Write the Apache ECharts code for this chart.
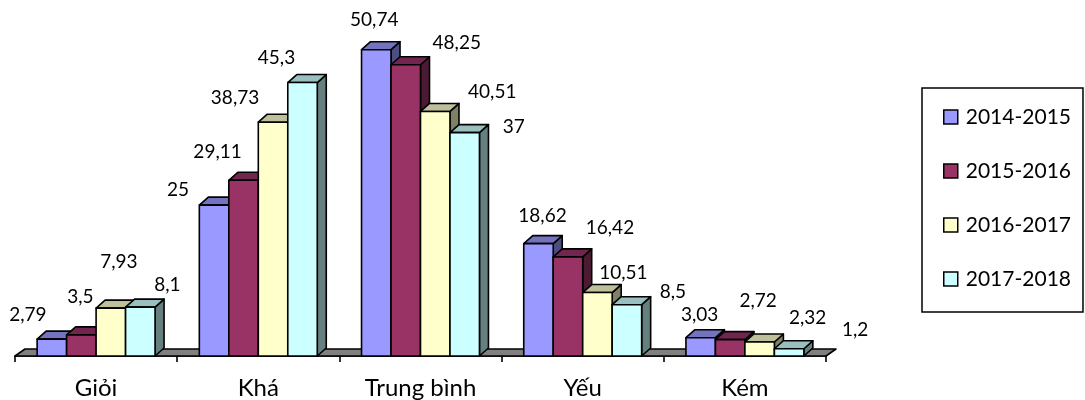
<!DOCTYPE html>
<html>
<head>
<meta charset="utf-8">
<script src="https://cdn.jsdelivr.net/npm/echarts@6/dist/echarts.min.js"></script>
<style>
  html, body { margin: 0; padding: 0; background: #fff; }
  #chart { width: 1085px; height: 400px; }
</style>
</head>
<body>
<div id="chart"></div>
<script>
// Data (percent per rating, per school year)
const categories = ['Giỏi', 'Khá', 'Trung bình', 'Yếu', 'Kém'];
const years = ['2014-2015', '2015-2016', '2016-2017', '2017-2018'];
const v1415 = [2.79, 25, 50.74, 18.62, 3.03];
const v1516 = [3.5, 29.11, 48.25, 16.42, 2.72];
const v1617 = [7.93, 38.73, 40.51, 10.51, 2.32];
const v1718 = [8.1, 45.3, 37, 8.5, 1.2];
const seriesValues = [v1415, v1516, v1617, v1718];

// Excel-like 3D faces: front, top, side
const frontColors = ['#9999FF', '#993366', '#FFFFCC', '#CCFFFF'];
const topColors = ['#7373BF', '#73264D', '#BFBF99', '#99BFBF'];
const sideColors = ['#4D4D80', '#4D1A33', '#808066', '#668080'];

// label nudges (px, relative to top centre of the bar's front face)
const labelOffsets = [
  [[-24, -24], [-36, -15], [-2, -30], [4, -28], [-1, -23]],
  [[-1, -38], [-26, -28], [51, -22], [42, -29], [28, -39]],
  [[8, -46], [-38, -24], [57, -20], [26, -20], [48, -24]],
  [[27, -22], [-26, -25], [49, -6], [46, -13], [66, -19]]
];

const DX = 9, DY = -8, CLUSTER = 0.727;
const STROKE = '#000', LW = 1.6;

const chart = echarts.init(document.getElementById('chart'), null, { renderer: 'canvas' });

function fmt(v) { return String(v).replace('.', ','); }

function barRenderer(si) {
  return function (params, api) {
    const cat = api.value(0), val = api.value(1);
    const base = api.coord([cat, 0]);
    const top = api.coord([cat, val]);
    const bw = api.size([1, 0])[0] * CLUSTER / 4;
    const x0 = base[0] + (si - 2) * bw, x1 = x0 + bw;
    const yb = base[1], yt = top[1];
    const st = { stroke: STROKE, lineWidth: LW, lineJoin: 'round' };
    const off = labelOffsets[si][cat];
    return {
      type: 'group',
      children: [
        { type: 'polygon', shape: { points: [[x1, yt], [x1 + DX, yt + DY], [x1 + DX, yb + DY], [x1, yb]] },
          style: Object.assign({ fill: sideColors[si] }, st) },
        { type: 'polygon', shape: { points: [[x0, yt], [x1, yt], [x1 + DX, yt + DY], [x0 + DX, yt + DY]] },
          style: Object.assign({ fill: topColors[si] }, st) },
        { type: 'rect', shape: { x: x0, y: yt, width: bw, height: yb - yt },
          style: Object.assign({ fill: frontColors[si] }, st) },
        { type: 'text', z2: 10,
          style: { x: x0 + bw / 2 + off[0], y: yt + off[1], text: fmt(val),
            fill: '#000', font: '19px Lato', align: 'center', verticalAlign: 'middle' } }
      ]
    };
  };
}

const series = [{
  type: 'custom',
  name: 'floor',
  z: 1,
  silent: true,
  clip: false,
  data: [[0, 0]],
  renderItem: function (params, api) {
    const cs = params.coordSys;
    const yb = api.coord([0, 0])[1];
    const xl = cs.x, xr = cs.x + cs.width;
    return {
      type: 'polygon',
      shape: { points: [[xl, yb], [xr, yb], [xr + DX + 1, yb + DY + 1], [xl + DX + 1, yb + DY + 1]] },
      style: { fill: '#808080', stroke: STROKE, lineWidth: LW, lineJoin: 'round' }
    };
  }
}];

years.forEach(function (name, si) {
  series.push({
    type: 'custom',
    name: name,
    z: 2,
    clip: false,
    itemStyle: { color: frontColors[si], borderColor: '#000', borderWidth: 1.5 },
    data: categories.map(function (c, i) { return [i, seriesValues[si][i]]; }),
    renderItem: barRenderer(si)
  });
});

chart.setOption({
  animation: false,
  backgroundColor: '#fff',
  grid: { left: 15, right: 259, top: 24, bottom: 44 },
  xAxis: {
    type: 'category',
    data: categories,
    axisLine: { lineStyle: { color: '#000', width: 1.6 } },
    axisTick: { show: true, length: 6, lineStyle: { color: '#000', width: 1.6 } },
    axisLabel: { color: '#000', fontFamily: 'Lato', fontSize: 24, lineHeight: 24, margin: 20 }
  },
  yAxis: { type: 'value', min: 0, max: 55, show: false, splitLine: { show: false } },
  legend: {
    orient: 'vertical',
    left: 922,
    top: 88,
    data: years.map(function (y, i) {
      return { name: y, icon: 'rect', itemStyle: { color: frontColors[i], borderColor: '#000', borderWidth: 1.5 } };
    }),
    padding: [17, 12, 21, 21],
    itemGap: 30,
    itemWidth: 14,
    itemHeight: 14,
    borderColor: '#000',
    borderWidth: 1.5,
    selectedMode: false,
    textStyle: { color: '#000', fontFamily: 'Lato', fontSize: 21, lineHeight: 24, padding: [0, 0, 0, 3] }
  },
  series: series
});
</script>
</body>
</html>
